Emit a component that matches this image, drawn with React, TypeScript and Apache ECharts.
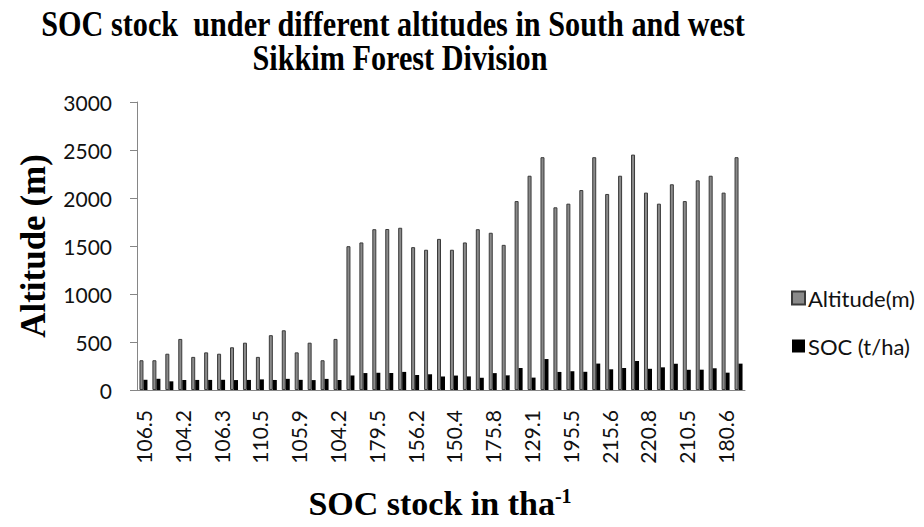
import React, { useEffect, useRef } from "react";
import * as echarts from "echarts";

// Altitude of each sampling site (m)
const altitude = [
  310, 310, 378, 532, 345, 392, 378, 445, 493, 345, 571, 622, 392, 493, 310, 532,
  1498, 1537, 1675, 1677, 1690, 1488, 1461, 1574, 1461, 1537, 1675, 1638, 1512,
  1968, 2232, 2425, 1903, 1941, 2083, 2425, 2042, 2232, 2452, 2056, 1941, 2143,
  1968, 2184, 2232, 2056, 2425,
];

// Soil organic carbon stock at each site (t/ha); also used as the category names
const socStock = [
  106.5, 116.8, 90.3, 104.2, 104.8, 105.1, 106.3, 103.6, 104.9, 110.5, 104.5, 116.2,
  105.9, 103.2, 115.7, 104.2, 151.3, 176.4, 179.5, 177.2, 188.6, 156.2, 163.9, 140.7,
  150.4, 141.5, 127.4, 175.8, 152.6, 228.9, 129.1, 322.5, 188.2, 195.5, 189.7, 275.3,
  215.6, 229.4, 301.8, 220.8, 236.1, 273.5, 210.5, 211.7, 226.3, 180.6, 274.6,
];

const categories = socStock.map((v) => v.toFixed(1));

const seriesNames = ["Altitude(m)", "SOC (t/ha)"];
const titleLines = [
  "SOC stock  under different altitudes in South and west",
  "Sikkim Forest Division",
];
const yAxisTitle = "Altitude (m)";

const SERIF = '"Liberation Serif", "Times New Roman", serif';
const SANS = 'Lato, "Open Sans", sans-serif';
const AXIS_GRAY = "#868686";

export default function App() {
  const ref = useRef<HTMLDivElement>(null);

  useEffect(() => {
    if (!ref.current) return;
    const chart = echarts.init(ref.current, null, { renderer: "svg" });
    chart.setOption({
      animation: false,
      backgroundColor: "#ffffff",
      grid: { left: 137, right: 179, top: 102, bottom: 137, containLabel: false },
      legend: {
        orient: "vertical",
        left: 786,
        top: 282,
        itemWidth: 13,
        itemHeight: 13,
        itemGap: 26,
        icon: "rect",
        data: seriesNames,
        textStyle: {
          fontFamily: SANS,
          fontSize: 22,
          color: "#111",
          lineHeight: 21,
          padding: [0, 0, 0, -2],
        },
      },
      xAxis: {
        type: "category",
        data: categories,
        boundaryGap: true,
        axisLine: { lineStyle: { color: AXIS_GRAY, width: 1 } },
        axisTick: { interval: 0, length: 7, lineStyle: { color: AXIS_GRAY } },
        axisLabel: {
          interval: 2,
          rotate: 90,
          margin: 20,
          fontFamily: SANS,
          fontSize: 21,
          color: "#111",
        },
        splitLine: { show: false },
      },
      yAxis: {
        type: "value",
        min: 0,
        max: 3000,
        interval: 500,
        axisLine: { show: true, lineStyle: { color: AXIS_GRAY, width: 1 } },
        axisTick: { show: true, length: 7, lineStyle: { color: AXIS_GRAY } },
        axisLabel: {
          margin: 25,
          fontFamily: SANS,
          fontSize: 21,
          color: "#111",
          formatter: (v: number) => String(v),
        },
        splitLine: { show: false },
      },
      series: [
        {
          name: seriesNames[0],
          type: "bar",
          data: altitude,
          barWidth: 4,
          barGap: "0%",
          itemStyle: { color: "#8a8a8a", borderColor: "#3a3a3a", borderWidth: 1 },
        },
        {
          name: seriesNames[1],
          type: "bar",
          data: socStock,
          barWidth: 4,
          barGap: "0%",
          itemStyle: { color: "#000000" },
        },
      ],
      graphic: [
        {
          type: "text",
          x: 393,
          y: 24,
          scaleX: 0.84,
          style: {
            text: titleLines[0],
            font: `bold 36px ${SERIF}`,
            fill: "#000",
            textAlign: "center",
            textVerticalAlign: "middle",
          },
        },
        {
          type: "text",
          x: 400,
          y: 58,
          scaleX: 0.84,
          style: {
            text: titleLines[1],
            font: `bold 36px ${SERIF}`,
            fill: "#000",
            textAlign: "center",
            textVerticalAlign: "middle",
          },
        },
        {
          type: "text",
          x: 33,
          y: 246,
          rotation: Math.PI / 2,
          style: {
            text: yAxisTitle,
            font: `bold 35px ${SERIF}`,
            fill: "#000",
            textAlign: "center",
            textVerticalAlign: "middle",
          },
        },
        {
          type: "text",
          x: 440,
          y: 503,
          style: {
            text: "SOC stock in tha{sup|-1}",
            font: `bold 34px ${SERIF}`,
            fill: "#000",
            textAlign: "center",
            textVerticalAlign: "middle",
            rich: {
              sup: {
                fontFamily: SERIF,
                fontWeight: "bold",
                fontSize: 20,
                verticalAlign: "top",
                padding: [0, 0, 14, 0],
              },
            },
          },
        },
      ],
    });
    return () => chart.dispose();
  }, []);

  return (
    <div
      ref={ref}
      style={{ position: "fixed", left: 0, top: 0, width: 924, height: 527 }}
    />
  );
}
